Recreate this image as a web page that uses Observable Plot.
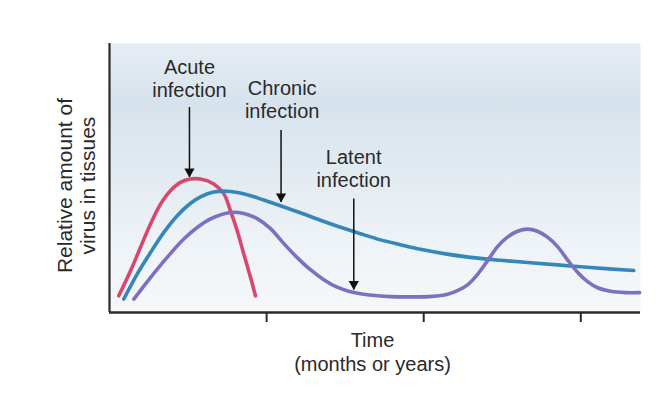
<!DOCTYPE html>
<html><head><meta charset="utf-8">
<script src="https://cdn.jsdelivr.net/npm/d3@7"></script>
<script src="https://cdn.jsdelivr.net/npm/@observablehq/plot@0.6"></script>
<style>html,body{margin:0;padding:0;background:#fff}</style>
</head><body><div id="chart"></div>
<script>
// Time (arbitrary units) and relative virus amount (0-10)
const acuteTime  = [0.059,0.134,0.197,0.261,0.325,0.388,0.452,0.516,0.579,0.664,0.728,0.770,0.813,0.855,0.898,0.929];
const acuteLevel = [0.62,1.55,2.42,3.29,4.03,4.53,4.84,4.96,4.96,4.78,4.41,3.78,3.04,2.17,1.30,0.62];

const chronicTime  = [0.091,0.176,0.261,0.346,0.431,0.516,0.579,0.664,0.770,0.877,0.982,1.088,1.215,1.343,1.470,1.597,1.725,1.852,1.979,2.139,2.298,2.489,2.680,2.871,3.062,3.337];
const chronicLevel = [0.50,1.43,2.23,2.98,3.60,4.06,4.30,4.48,4.50,4.38,4.18,3.97,3.71,3.43,3.17,2.93,2.70,2.52,2.35,2.18,2.05,1.94,1.85,1.76,1.67,1.56];

const latentTime  = [0.155,0.261,0.367,0.473,0.558,0.643,0.770,0.855,0.940,1.025,1.110,1.195,1.279,1.364,1.449,1.534,1.640,1.789,1.916,2.056,2.152,2.215,2.279,2.343,2.406,2.470,2.533,2.597,2.661,2.724,2.788,2.852,2.915,2.979,3.043,3.107,3.189,3.285,3.374];
const latentLevel = [0.50,1.30,2.05,2.73,3.16,3.48,3.72,3.68,3.49,3.12,2.56,2.04,1.59,1.22,0.94,0.77,0.66,0.59,0.58,0.60,0.68,0.81,1.03,1.42,1.92,2.45,2.80,3.02,3.10,3.02,2.80,2.45,1.96,1.50,1.15,0.92,0.79,0.74,0.74];

const seriesNames  = ["Acute", "Chronic", "Latent"];
const seriesColors = ["#d9466e", "#3587b8", "#7e6fc0"];

const timeTicks = [1, 2, 3];
const timeDomain = [0, 3.38];
const levelDomain = [0, 10];

// annotation labels and arrows
const labelTexts = ["Acute\ninfection", "Chronic\ninfection", "Latent\ninfection"];
const labelTime  = [0.509, 1.099, 1.554];
const labelLevel = [8.02, 7.23, 4.67];
const arrowTime  = [0.509, 1.092, 1.555];
const arrowFrom  = [7.62, 6.77, 4.22];
const arrowTo    = [5.02, 4.09, 0.84];

const yLabel = "Relative amount of\nvirus in tissues";
const xLabel = "Time\n(months or years)";

const curves = [];
[[acuteTime, acuteLevel], [chronicTime, chronicLevel], [latentTime, latentLevel]].forEach(([t, v], k) => {
  t.forEach((x, i) => curves.push({series: seriesNames[k], time: x, level: v[i]}));
});
const labels = labelTexts.map((text, i) => ({text, time: labelTime[i], level: labelLevel[i]}));
const arrows = arrowTime.map((time, i) => ({time, from: arrowFrom[i], to: arrowTo[i]}));

const ink = "#2a2a2a";

const chart = Plot.plot({
  width: 664,
  height: 408,
  marginLeft: 109,
  marginRight: 24,
  marginTop: 43,
  marginBottom: 96,
  style: {fontFamily: "'Liberation Sans', Arial, Helvetica, sans-serif", background: "#fff"},
  x: {domain: timeDomain, axis: null},
  y: {domain: levelDomain, axis: null},
  color: {domain: seriesNames, range: seriesColors},
  marks: [
    Plot.frame({fill: "url(#bggrad)", stroke: null}),
    Plot.line(curves, {x: "time", y: "level", z: "series", stroke: "series", strokeWidth: 3.6, curve: "catmull-rom", strokeLinecap: "round", strokeLinejoin: "round"}),
    Plot.ruleX(arrows, {x: "time", y1: "from", y2: "to", stroke: "#111", strokeWidth: 1.5}),
    Plot.dot(arrows, {x: "time", y: "to", symbol: "triangle", rotate: 180, r: 3.8, fill: "#111", stroke: null, dy: -5.9}),
    Plot.text(labels, {x: "time", y: "level", text: "text", lineAnchor: "bottom", lineHeight: 1.13, fontSize: 20, fill: ink}),
    Plot.axisX({ticks: timeTicks, tickSize: 10, tickFormat: () => "", stroke: ink, strokeWidth: 2, label: null}),
    Plot.ruleY([0], {stroke: ink, strokeWidth: 2.5}),
    Plot.ruleX([0], {stroke: ink, strokeWidth: 2.2}),
    Plot.text([yLabel], {x: -0.21, y: 4.72, text: d => d, rotate: -90, lineAnchor: "middle", lineHeight: 1.08, fontSize: 21, fill: ink}),
    Plot.text([xLabel], {x: 1.674, y: -2.16, text: d => d, lineAnchor: "bottom", lineHeight: 1.16, fontSize: 20, fill: ink})
  ]
});

const svg = d3.select(chart);
const defs = svg.insert("defs", ":first-child");
const g = defs.append("linearGradient").attr("id", "bggrad").attr("x1", 0).attr("y1", 0).attr("x2", 0).attr("y2", 1);
[[0, "#e6edf3"], [0.22, "#d7e3ec"], [0.45, "#e1eaf1"], [0.75, "#eef3f7"], [1, "#f6f8fa"]].forEach(([o, c]) =>
  g.append("stop").attr("offset", o).attr("stop-color", c));

document.getElementById("chart").appendChild(chart);
</script>
</body></html>
